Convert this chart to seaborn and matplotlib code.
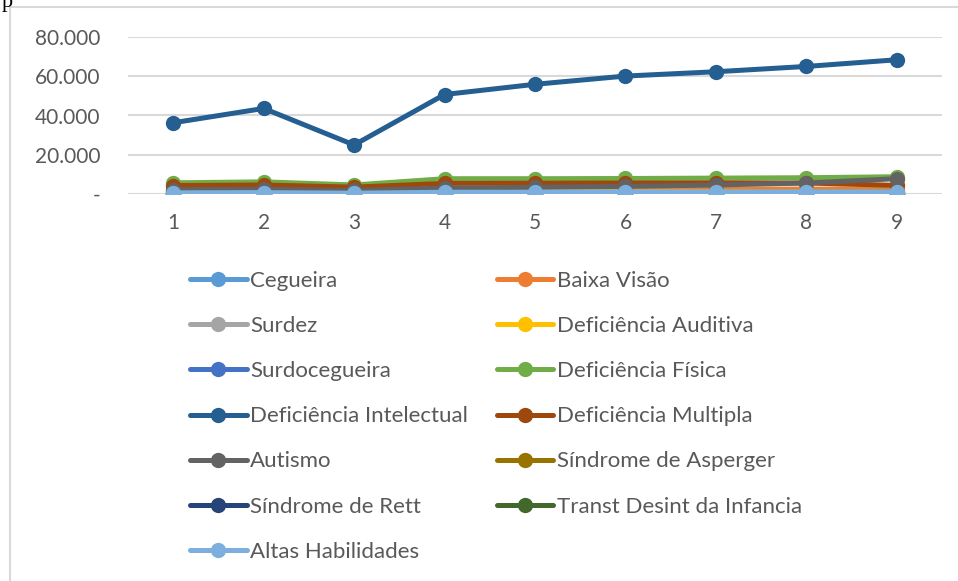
import pandas as pd
import numpy as np
import matplotlib.pyplot as plt
import seaborn as sns
from matplotlib.patches import Rectangle

# data
periods = [1, 2, 3, 4, 5, 6, 7, 8, 9]
categories = ['Cegueira', 'Baixa Visão', 'Surdez', 'Deficiência Auditiva',
              'Surdocegueira', 'Deficiência Física', 'Deficiência Intelectual',
              'Deficiência Multipla', 'Autismo', 'Síndrome de Asperger',
              'Síndrome de Rett', 'Transt Desint da Infancia', 'Altas Habilidades']
cegueira = [400, 420, 300, 450, 480, 500, 520, 540, 560]
baixa_visao = [2000, 2100, 1500, 2300, 2300, 2400, 2500, 2500, 2600]
surdez = [1200, 1200, 900, 1200, 1200, 1100, 1100, 1000, 1000]
def_auditiva = [900, 900, 700, 1000, 1000, 1000, 1100, 1100, 1100]
surdocegueira = [30, 30, 20, 40, 40, 40, 40, 40, 40]
def_fisica = [5700, 6200, 4600, 7800, 7800, 7900, 8100, 8300, 8800]
def_intelectual = [36300, 43600, 25000, 50700, 55900, 60100, 62300, 65000, 68400]
def_multipla = [4300, 4600, 3500, 5400, 5500, 5600, 5700, 5600, 4400]
autismo = [2200, 2400, 1800, 3000, 3400, 3900, 4600, 5600, 7800]
asperger = [300, 400, 300, 600, 700, 800, 900, 1000, 1100]
rett = [50, 50, 40, 60, 60, 60, 60, 60, 60]
transt = [200, 200, 150, 250, 250, 250, 250, 250, 250]
altas_habilidades = [600, 700, 400, 900, 900, 1000, 1000, 1100, 1100]

series = [cegueira, baixa_visao, surdez, def_auditiva, surdocegueira, def_fisica,
          def_intelectual, def_multipla, autismo, asperger, rett, transt,
          altas_habilidades]
colors = ['#5B9BD5', '#ED7D31', '#A5A5A5', '#FFC000', '#4472C4', '#70AD47',
          '#255E91', '#9E480E', '#636363', '#997300', '#264478', '#43682B',
          '#7CAFDD']

df = pd.DataFrame({
    'periodo': np.tile(periods, len(categories)),
    'valor': np.concatenate(series),
    'categoria': np.repeat(categories, len(periods)),
})

sns.set_style('white')
plt.rcParams['font.family'] = ['Lato', 'DejaVu Sans']
text_color = '#595959'

fig = plt.figure(figsize=(9.58, 5.81), dpi=100)
ax = fig.add_axes([128 / 958, 1 - 194 / 581, (942 - 128) / 958, (194 - 37) / 581])

sns.lineplot(data=df, x='periodo', y='valor', hue='categoria', hue_order=categories,
             palette=colors, marker='o', markersize=11, markeredgewidth=0,
             linewidth=3.6, ax=ax)

ax.set_xlim(0.5, 9.5)
ax.set_ylim(0, 80000)
ax.set_yticks([0, 20000, 40000, 60000, 80000])
ax.set_yticklabels(['-', '20.000', '40.000', '60.000', '80.000'])
ax.set_xticks(periods)
ax.set_xlabel('')
ax.set_ylabel('')
ax.grid(axis='y', color='#D9D9D9', linewidth=1.5)
ax.set_axisbelow(True)
for s in ax.spines.values():
    s.set_visible(False)
ax.tick_params(axis='x', length=0, pad=14, labelsize=15, labelcolor=text_color)
ax.tick_params(axis='y', length=0, pad=20, labelsize=15, labelcolor=text_color)

# legend in row-major order, two columns
handles, labels = ax.get_legend_handles_labels()
ax.get_legend().remove()
order = list(range(0, 13, 2)) + list(range(1, 13, 2))
fig.legend([handles[i] for i in order], [labels[i] for i in order],
           ncol=2, loc='upper left', bbox_to_anchor=(190 / 958, 1 - 271 / 581),
           frameon=False, fontsize=16, labelcolor=text_color,
           handlelength=2.55, handletextpad=0.15, columnspacing=1.3,
           labelspacing=1.13, borderpad=0, borderaxespad=0)

# chart frame and document text fragment
fig.patches.append(Rectangle((10 / 958, -0.1), 1.2, 1 - 7 / 581 + 0.1,
                             transform=fig.transFigure, fill=False,
                             edgecolor='#D9D9D9', linewidth=1.5))
fig.text(2 / 958, 1 - 2 / 581, 'p', family='Liberation Serif', fontsize=16,
         color='black', va='center', ha='left')

fig.savefig('out.png', dpi=100)
